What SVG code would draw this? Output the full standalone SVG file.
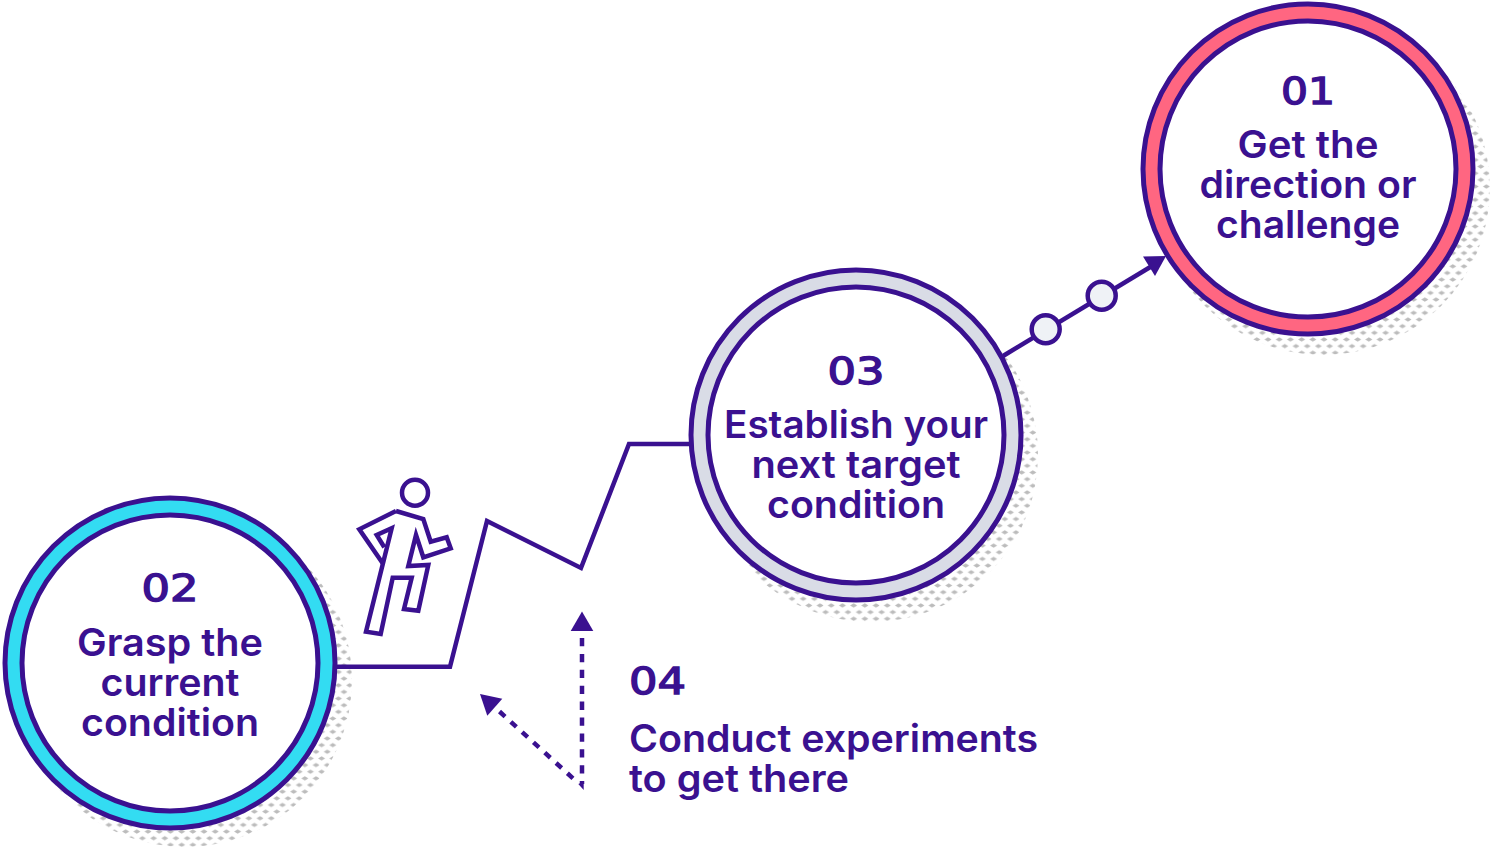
<svg xmlns="http://www.w3.org/2000/svg" width="1490" height="850" viewBox="0 0 1490 850">
<style>
.ring{stroke:#3a1190;stroke-width:5}
.inner{fill:#fff;stroke:#3a1190;stroke-width:5}
.line{fill:none;stroke:#3a1190;stroke-width:4.5}
.dash{fill:none;stroke:#3a1190;stroke-width:4.5}
.tip{fill:#3a1190}
.knob{fill:#eff2f6;stroke:#3a1190;stroke-width:4.500}
text{font-family:"Inter","Liberation Sans",sans-serif;fill:#3a1190;text-anchor:middle;font-size:38px;font-weight:600}
.num{font-family:"DejaVu Sans","Liberation Sans",sans-serif;font-size:38px;font-weight:400;stroke:#3a1190;stroke-width:1.4}
.left{text-anchor:start}
</style>
<defs>
<pattern id="dots" width="11.2" height="13.3" patternUnits="userSpaceOnUse" patternTransform="translate(4.5,10.3)">
<polygon points="0,3.3 3.500,1.100 7,3.300 3.500,5.500" fill="#bcbcbc"/>
<polygon points="5.600,9.950 9.100,7.750 12.600,9.950 9.100,12.150" fill="#bcbcbc"/>
<polygon points="-5.600,9.950 -2.100,7.750 1.400,9.950 -2.100,12.150" fill="#bcbcbc"/>
</pattern>
</defs>
<g id="shadows">
<circle cx="1323" cy="188" r="167" fill="url(#dots)"/>
<circle cx="871" cy="455" r="167" fill="url(#dots)"/>
<circle cx="185" cy="680" r="167" fill="url(#dots)"/>
</g>
<g id="connectors">
<polyline class="line" points="337,666.700 450,666.700 487,521 581,568 629,444 692,444"/>
<line class="line" x1="1003" y1="356" x2="1152" y2="266"/>
<polygon class="tip" points="1166,256 1143,256.500 1155,276"/>
<line class="dash" stroke-dasharray="8.300 7.600" x1="582" y1="638" x2="582" y2="784"/>
<polygon class="tip" points="582,611.500 570.700,631 593.300,631"/>
<line class="dash" stroke-dasharray="7.500 7.800" x1="499.500" y1="711.500" x2="577" y2="782"/>
<polygon class="tip" points="480,694 502.300,698.700 487.300,715.700"/>
<polygon class="tip" points="583.700,790 578.300,784 583.700,781.700"/>
<circle class="knob" cx="1045.700" cy="329.300" r="14"/>
<circle class="knob" cx="1101.700" cy="295.700" r="14"/>
</g>
<g id="node-01">
<circle class="ring" cx="1308" cy="169" r="165" fill="#ff6681"/>
<circle class="inner" cx="1308" cy="169" r="148"/>
<text class="num" x="1308" y="104" textLength="54" lengthAdjust="spacingAndGlyphs">01</text>
<text x="1308" y="158" textLength="141" lengthAdjust="spacingAndGlyphs">Get the</text>
<text x="1308" y="198" textLength="217" lengthAdjust="spacingAndGlyphs">direction or</text>
<text x="1308" y="238" textLength="184" lengthAdjust="spacingAndGlyphs">challenge</text>
</g>
<g id="node-03">
<circle class="ring" cx="856" cy="435" r="165" fill="#d9dce6"/>
<circle class="inner" cx="856" cy="435" r="148"/>
<text class="num" x="856" y="384" textLength="57" lengthAdjust="spacingAndGlyphs">03</text>
<text x="856" y="438" textLength="264" lengthAdjust="spacingAndGlyphs">Establish your</text>
<text x="856" y="478" textLength="209" lengthAdjust="spacingAndGlyphs">next target</text>
<text x="856" y="518" textLength="178" lengthAdjust="spacingAndGlyphs">condition</text>
</g>
<g id="node-02">
<circle class="ring" cx="170" cy="663" r="165" fill="#33dcf2"/>
<circle class="inner" cx="170" cy="663" r="148"/>
<text class="num" x="170" y="601" textLength="57" lengthAdjust="spacingAndGlyphs">02</text>
<text x="170" y="656" textLength="186" lengthAdjust="spacingAndGlyphs">Grasp the</text>
<text x="170" y="696" textLength="139" lengthAdjust="spacingAndGlyphs">current</text>
<text x="170" y="736" textLength="178" lengthAdjust="spacingAndGlyphs">condition</text>
</g>
<g id="node-04">
<text class="num left" x="629" y="694" textLength="57" lengthAdjust="spacingAndGlyphs">04</text>
<text class="left" x="629" y="752" textLength="409" lengthAdjust="spacingAndGlyphs">Conduct experiments</text>
<text class="left" x="629" y="792" textLength="220" lengthAdjust="spacingAndGlyphs">to get there</text>
</g>
<g id="runner" fill="none" stroke="#3a1190" stroke-width="4.500">
<circle cx="415" cy="492.700" r="13"/>
<path d="M396,511 L423.300,519 L430.700,541.700 L446.700,537.300 L450.700,548.300 L423.300,557.300 L416,535 L408.300,566 L428.300,565 L418.300,610.700 L404,609 L411.700,577.700 L392.700,577.700 L380.700,634 L366,631.700 L391.700,528.300 L376.700,535 L384.300,547.300"/>
<path d="M382.700,563.300 L359.300,529.300 L396,511"/>
</g>
</svg>
